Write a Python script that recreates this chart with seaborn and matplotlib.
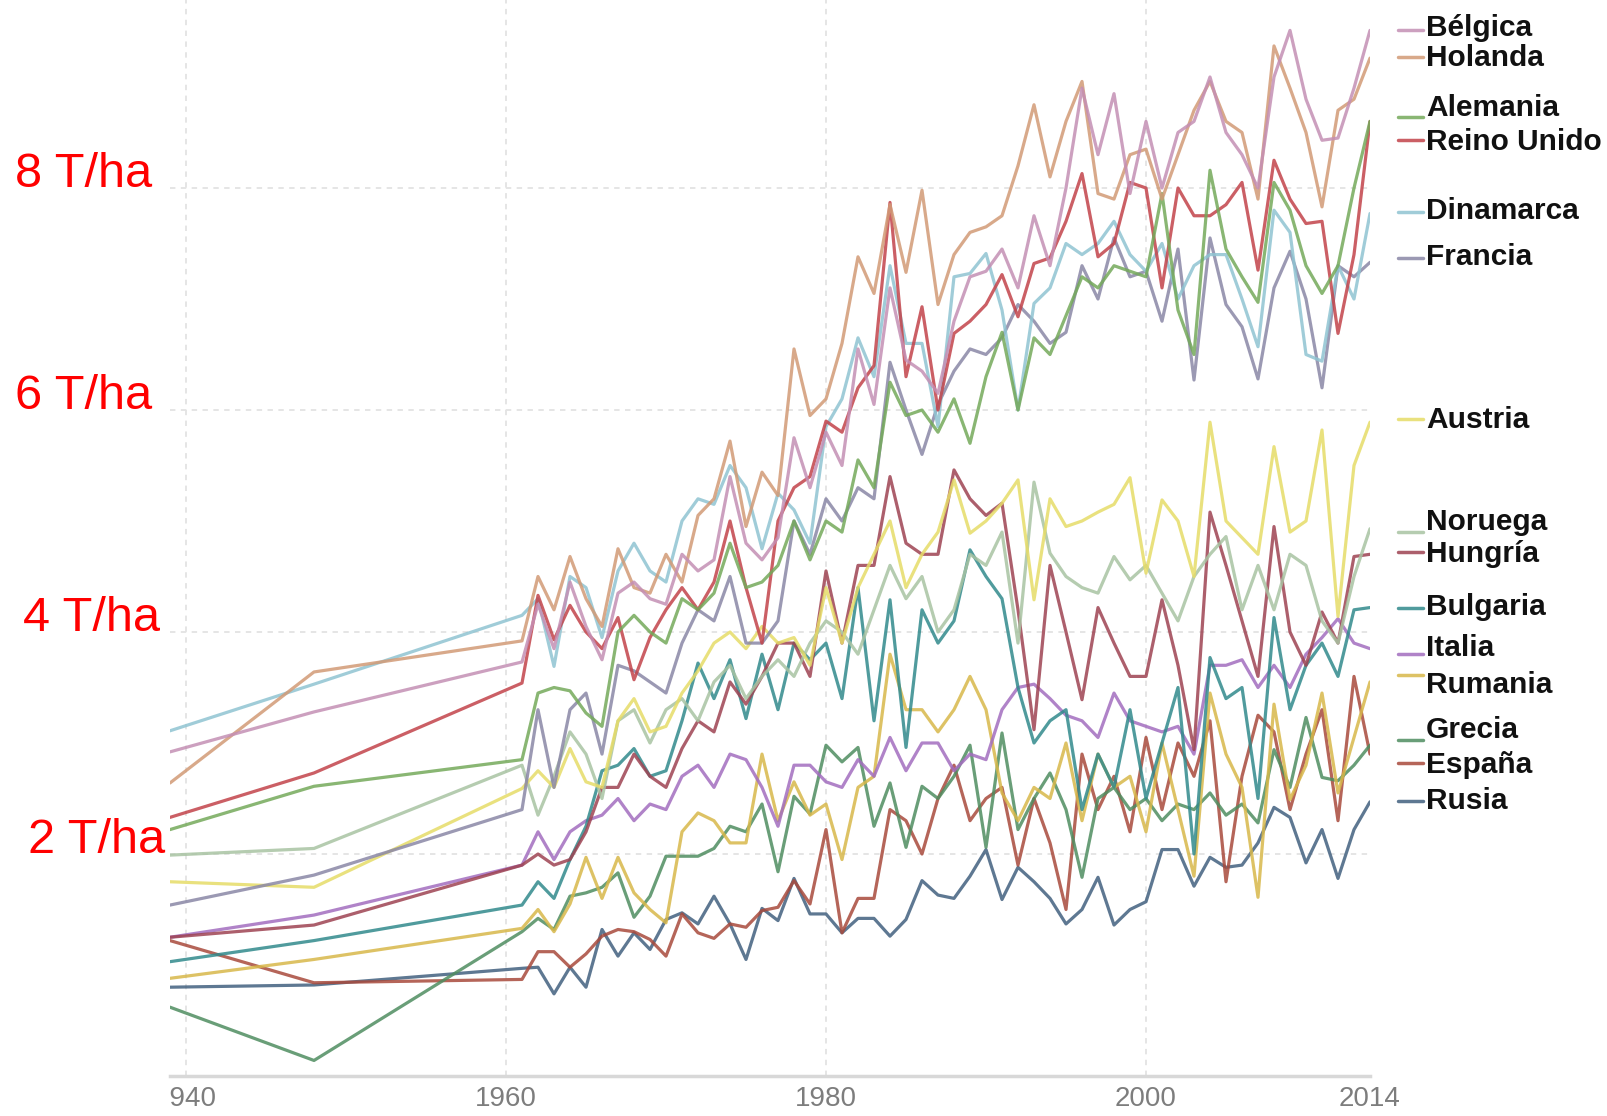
import matplotlib
matplotlib.use('Agg')
import matplotlib.pyplot as plt
import matplotlib.transforms as mtransforms
from matplotlib.lines import Line2D
import numpy as np
import pandas as pd
import seaborn as sns

# years: two early points, then yearly 1961-2014
years = [1939, 1948] + list(range(1961, 2015))

belgica = [2.92, 3.28,
           3.73, 4.25, 3.85, 4.45, 4.05, 3.75, 4.35, 4.45, 4.30, 4.25,
           4.70, 4.55, 4.65, 5.40, 4.80, 4.65, 4.85, 5.75, 5.30, 5.80,
           5.50, 6.55, 6.05, 7.10, 6.45, 6.35, 6.15, 6.80, 7.20, 7.25,
           7.45, 7.10, 7.75, 7.30, 8.00, 8.90, 8.30, 8.85, 7.95, 8.60,
           8.00, 8.50, 8.60, 9.00, 8.50, 8.30, 8.00, 9.00, 9.42, 8.80,
           8.43, 8.45, 8.90, 9.42]
holanda = [2.64, 3.64,
           3.92, 4.50, 4.20, 4.68, 4.30, 4.05, 4.75, 4.40, 4.35, 4.70,
           4.45, 5.05, 5.20, 5.72, 4.95, 5.44, 5.23, 6.55, 5.95, 6.10,
           6.60, 7.38, 7.05, 7.85, 7.24, 7.98, 6.95, 7.40, 7.60, 7.65,
           7.75, 8.20, 8.75, 8.10, 8.60, 8.96, 7.95, 7.90, 8.30, 8.35,
           7.90, 8.30, 8.70, 8.96, 8.60, 8.50, 7.90, 9.28, 8.90, 8.50,
           7.83, 8.70, 8.80, 9.17]
alemania = [2.22, 2.61,
            2.85, 3.45, 3.50, 3.47, 3.27, 3.15, 4.00, 4.15, 4.00, 3.90,
            4.30, 4.20, 4.35, 4.80, 4.40, 4.45, 4.60, 5.00, 4.65, 5.00,
            4.90, 5.55, 5.30, 6.25, 5.95, 6.00, 5.80, 6.10, 5.70, 6.30,
            6.70, 6.00, 6.65, 6.50, 6.85, 7.20, 7.10, 7.30, 7.25, 7.20,
            7.95, 6.90, 6.50, 8.16, 7.45, 7.20, 6.97, 8.05, 7.80, 7.30,
            7.05, 7.30, 8.00, 8.60]
reino_unido = [2.33, 2.73,
               3.54, 4.33, 3.93, 4.24, 4.00, 3.85, 4.13, 3.57, 3.95, 4.20,
               4.40, 4.20, 4.45, 5.00, 4.40, 3.90, 5.00, 5.30, 5.40, 5.90,
               5.80, 6.20, 6.40, 7.87, 6.30, 6.93, 6.00, 6.69, 6.80, 6.95,
               7.22, 6.84, 7.32, 7.37, 7.70, 8.13, 7.38, 7.50, 8.05, 8.00,
               7.10, 8.00, 7.75, 7.75, 7.85, 8.05, 7.26, 8.25, 7.90, 7.68,
               7.70, 6.69, 7.40, 8.60]
dinamarca = [3.11, 3.53,
             4.15, 4.30, 3.69, 4.50, 4.40, 3.95, 4.55, 4.80, 4.55, 4.45,
             5.00, 5.20, 5.15, 5.50, 5.30, 4.75, 5.25, 5.10, 4.80, 5.85,
             6.10, 6.65, 6.30, 7.30, 6.60, 6.60, 5.85, 7.20, 7.23, 7.41,
             6.90, 6.00, 6.96, 7.10, 7.50, 7.40, 7.50, 7.70, 7.40, 7.25,
             7.50, 7.00, 7.30, 7.40, 7.40, 7.00, 6.57, 7.80, 7.60, 6.50,
             6.44, 7.30, 7.00, 7.77]
francia = [1.54, 1.81,
           2.40, 3.30, 2.60, 3.30, 3.45, 2.90, 3.70, 3.65, 3.55, 3.45,
           3.90, 4.20, 4.10, 4.50, 3.90, 3.90, 4.10, 5.00, 4.70, 5.20,
           5.00, 5.30, 5.20, 6.43, 6.00, 5.60, 6.05, 6.35, 6.55, 6.50,
           6.65, 6.95, 6.80, 6.60, 6.70, 7.30, 7.00, 7.55, 7.20, 7.25,
           6.80, 7.45, 6.27, 7.55, 6.95, 6.75, 6.28, 7.10, 7.43, 7.00,
           6.20, 7.30, 7.20, 7.33]
austria = [1.75, 1.70,
           2.59, 2.75, 2.60, 2.95, 2.65, 2.60, 3.20, 3.40, 3.10, 3.15,
           3.45, 3.65, 3.90, 4.00, 3.85, 4.05, 3.90, 3.95, 3.70, 4.40,
           3.90, 4.40, 4.70, 5.00, 4.40, 4.70, 4.90, 5.37, 4.89, 5.00,
           5.16, 5.37, 4.29, 5.20, 4.95, 5.00, 5.08, 5.15, 5.39, 4.53,
           5.19, 5.00, 4.50, 5.89, 5.00, 4.85, 4.70, 5.67, 4.90, 5.00,
           5.82, 4.14, 5.50, 5.89]
noruega = [1.99, 2.05,
           2.80, 2.35, 2.70, 3.10, 2.90, 2.50, 3.20, 3.30, 3.00, 3.30,
           3.40, 3.20, 3.55, 3.70, 3.40, 3.60, 3.75, 3.60, 3.90, 4.10,
           4.00, 3.80, 4.20, 4.60, 4.30, 4.50, 4.00, 4.20, 4.70, 4.60,
           4.90, 3.90, 5.35, 4.71, 4.50, 4.40, 4.35, 4.68, 4.47, 4.60,
           4.35, 4.10, 4.50, 4.70, 4.86, 4.20, 4.60, 4.20, 4.70, 4.60,
           4.10, 3.90, 4.50, 4.93]
hungria = [1.25, 1.36,
           1.90, 2.00, 1.90, 1.95, 2.20, 2.60, 2.60, 2.90, 2.70, 2.60,
           2.95, 3.20, 3.10, 3.55, 3.35, 3.60, 3.90, 3.90, 3.60, 4.55,
           3.90, 4.60, 4.60, 5.40, 4.80, 4.70, 4.70, 5.46, 5.20, 5.05,
           5.16, 4.20, 3.12, 4.60, 4.00, 3.39, 4.22, 3.90, 3.60, 3.60,
           4.29, 3.70, 2.94, 5.08, 4.60, 4.10, 3.60, 4.95, 4.00, 3.70,
           4.18, 3.90, 4.68, 4.70]
bulgaria = [1.03, 1.22,
            1.54, 1.75, 1.60, 1.95, 2.25, 2.75, 2.80, 2.95, 2.70, 2.75,
            3.20, 3.72, 3.40, 3.75, 3.22, 3.80, 3.30, 3.90, 3.75, 3.90,
            3.40, 4.40, 3.20, 4.29, 2.96, 4.20, 3.90, 4.10, 4.74, 4.50,
            4.30, 3.50, 3.00, 3.20, 3.30, 2.40, 2.90, 2.60, 3.30, 2.50,
            3.00, 3.50, 2.00, 3.77, 3.40, 3.50, 2.50, 4.13, 3.30, 3.70,
            3.90, 3.60, 4.20, 4.22]
italia = [1.25, 1.45,
          1.90, 2.20, 1.95, 2.20, 2.30, 2.35, 2.50, 2.30, 2.45, 2.40,
          2.70, 2.80, 2.60, 2.90, 2.85, 2.60, 2.25, 2.80, 2.80, 2.65,
          2.60, 2.85, 2.70, 3.05, 2.75, 3.00, 3.00, 2.75, 2.90, 2.85,
          3.30, 3.50, 3.53, 3.40, 3.25, 3.20, 3.05, 3.45, 3.20, 3.15,
          3.10, 3.15, 2.90, 3.70, 3.70, 3.75, 3.50, 3.70, 3.50, 3.80,
          3.95, 4.12, 3.90, 3.85]
rumania = [0.88, 1.05,
           1.33, 1.50, 1.30, 1.55, 1.97, 1.60, 1.97, 1.65, 1.50, 1.38,
           2.20, 2.37, 2.30, 2.10, 2.10, 2.90, 2.30, 2.65, 2.35, 2.45,
           1.95, 2.60, 2.70, 3.80, 3.30, 3.30, 3.10, 3.30, 3.60, 3.30,
           2.55, 2.30, 2.60, 2.50, 3.00, 2.30, 2.90, 2.60, 2.70, 2.20,
           3.00, 2.40, 1.80, 3.45, 2.90, 2.60, 1.61, 3.35, 2.49, 2.80,
           3.45, 2.55, 3.05, 3.55]
grecia = [0.62, 0.14,
          1.30, 1.42, 1.32, 1.62, 1.65, 1.70, 1.83, 1.43, 1.62, 1.98,
          1.98, 1.98, 2.05, 2.25, 2.20, 2.45, 1.84, 2.52, 2.36, 2.98,
          2.83, 2.96, 2.25, 2.64, 2.06, 2.61, 2.50, 2.70, 2.98, 2.06,
          3.09, 2.22, 2.50, 2.73, 2.40, 1.79, 2.50, 2.60, 2.40, 2.50,
          2.30, 2.45, 2.40, 2.55, 2.35, 2.45, 2.28, 2.94, 2.60, 3.23,
          2.69, 2.66, 2.80, 2.98]
espana = [1.22, 0.84,
          0.87, 1.12, 1.12, 0.98, 1.10, 1.26, 1.32, 1.30, 1.23, 1.08,
          1.46, 1.29, 1.24, 1.37, 1.34, 1.49, 1.52, 1.76, 1.55, 2.22,
          1.29, 1.60, 1.60, 2.40, 2.30, 2.00, 2.50, 2.80, 2.30, 2.50,
          2.60, 1.90, 2.50, 2.10, 1.50, 2.90, 2.40, 2.70, 2.20, 3.05,
          2.40, 3.00, 2.70, 3.20, 1.75, 2.70, 3.25, 3.10, 2.40, 2.90,
          3.30, 2.30, 3.60, 2.90]
rusia = [0.80, 0.82,
         0.97, 0.98, 0.74, 0.98, 0.80, 1.32, 1.08, 1.29, 1.14, 1.41,
         1.47, 1.37, 1.62, 1.37, 1.05, 1.51, 1.40, 1.78, 1.46, 1.46,
         1.29, 1.42, 1.42, 1.26, 1.41, 1.76, 1.63, 1.60, 1.80, 2.04,
         1.59, 1.88, 1.75, 1.60, 1.37, 1.50, 1.79, 1.36, 1.50, 1.57,
         2.04, 2.04, 1.71, 1.97, 1.88, 1.90, 2.10, 2.42, 2.33, 1.92,
         2.22, 1.78, 2.22, 2.47]

countries = ['Bélgica', 'Holanda', 'Alemania', 'Reino Unido', 'Dinamarca', 'Francia',
             'Austria', 'Noruega', 'Hungría', 'Bulgaria', 'Italia', 'Rumania',
             'Grecia', 'España', 'Rusia']
values = [belgica, holanda, alemania, reino_unido, dinamarca, francia,
          austria, noruega, hungria, bulgaria, italia, rumania,
          grecia, espana, rusia]
colors = ['#c48fb4', '#d29a76', '#74a95a', '#c2434a', '#8fc4d2', '#8a87a6',
          '#e6dc68', '#a8c3a2', '#9e4352', '#318a8c', '#a26dbf', '#d8b84a',
          '#4f8d60', '#a84a3c', '#42607f']

x_ticks = [1940, 1960, 1980, 2000, 2014]
y_ticks = [8, 6, 4, 2]

# layout (figure pixels)
W, H = 1608, 1116
legend_text_y = [28, 58, 108, 142, 211, 257, 420, 522, 554, 607, 648, 685, 730, 765, 801]
legend_dash_y = [30, 57, 117, 140, 212, 258, 419, 532, 552, 608, 654, 675, 740, 763, 801]
ylabel_x = [15, 15, 23, 28]

sns.set_style('white')
plt.rcParams['font.family'] = ['Liberation Sans', 'DejaVu Sans']

df = pd.DataFrame({
    'year': np.tile(years, len(countries)),
    'pais': np.repeat(countries, len(years)),
    'rend': np.concatenate(values),
})
palette = dict(zip(countries, colors))

fig = plt.figure(figsize=(W / 100, H / 100), dpi=100)
ax = fig.add_axes([170 / W, (H - 1076) / H, 1200 / W, 1076 / H])

sns.lineplot(data=df, x='year', y='rend', hue='pais', hue_order=countries[::-1],
             palette=palette, estimator=None, linewidth=2.3, alpha=0.85,
             legend=False, ax=ax)

ax.set_xlim(1939, 2014)
ax.set_ylim(0, 1076 / 111)
ax.set_xlabel('')
ax.set_ylabel('')

ax.set_xticks(x_ticks)
ax.set_xticklabels([str(t) for t in x_ticks], fontsize=20, color='#7d7d7d')
ax.set_yticks(y_ticks)
ax.set_yticklabels([])
ax.tick_params(length=0, pad=7)
ax.grid(True, color='#e3e3e3', linestyle=(0, (3, 3)), linewidth=1.3)
ax.xaxis.get_gridlines()[-1].set_visible(False)
for side in ['top', 'right', 'left']:
    ax.spines[side].set_visible(False)
ax.spines['bottom'].set_color('#d8d8d8')
ax.spines['bottom'].set_linewidth(2.5)

# the first year label is cut at the left edge of the plot
clip = mtransforms.TransformedBbox(mtransforms.Bbox([[0, -0.5], [1.3, 1.0]]), ax.transAxes)
for lbl in ax.get_xticklabels():
    lbl.set_clip_on(True)
    lbl.set_clip_box(clip)

# red y labels
trans = mtransforms.blended_transform_factory(fig.transFigure, ax.transData)
for v, xp in zip(y_ticks, ylabel_x):
    ax.text(xp / W, v + 0.12, f'{v} T/ha', transform=trans, color='#ff0000',
            fontsize=35, va='center', ha='left', clip_on=False)

# legend on the right
for name, col, ty, dy in zip(countries, colors, legend_text_y, legend_dash_y):
    fig.add_artist(Line2D([1398 / W, 1423 / W], [1 - dy / H] * 2, color=col,
                          linewidth=2.5, alpha=0.85, transform=fig.transFigure))
    fig.text(1426 / W, 1 - ty / H, name, fontsize=21.5, fontweight='bold',
             color='#111111', va='center', ha='left')

fig.savefig('out.png', dpi=100, facecolor='white')
